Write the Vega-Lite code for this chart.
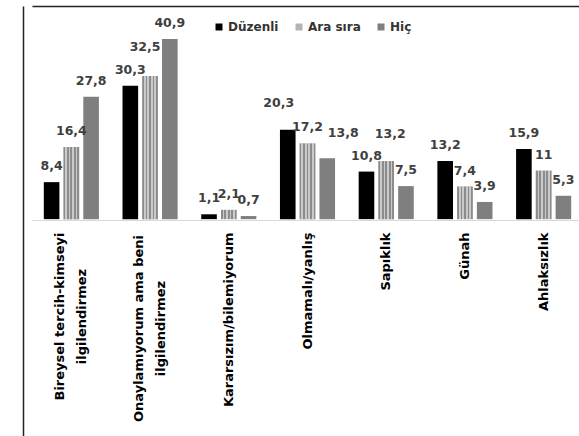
{
  "$schema": "https://vega.github.io/schema/vega-lite/v6.json",
  "width": 600,
  "height": 432,
  "autosize": {"type": "none"},
  "padding": {"left": 23, "top": 6, "right": -44, "bottom": -2},
  "background": "white",
  "config": {
    "view": {"stroke": null},
    "font": "DejaVu Sans",
    "text": {"font": "DejaVu Sans", "fontWeight": "bold", "fontSize": 12.5, "color": "#404040", "baseline": "alphabetic", "align": "center"}
  },
  "data": {
    "values": [
      {"kategori": "Bireysel tercih-kimseyi ilgilendirmez", "seri": "Düzenli", "deger": 8.4},
      {"kategori": "Bireysel tercih-kimseyi ilgilendirmez", "seri": "Ara sıra", "deger": 16.4},
      {"kategori": "Bireysel tercih-kimseyi ilgilendirmez", "seri": "Hiç", "deger": 27.8},
      {"kategori": "Onaylamıyorum ama beni ilgilendirmez", "seri": "Düzenli", "deger": 30.3},
      {"kategori": "Onaylamıyorum ama beni ilgilendirmez", "seri": "Ara sıra", "deger": 32.5},
      {"kategori": "Onaylamıyorum ama beni ilgilendirmez", "seri": "Hiç", "deger": 40.9},
      {"kategori": "Kararsızım/bilemiyorum", "seri": "Düzenli", "deger": 1.1},
      {"kategori": "Kararsızım/bilemiyorum", "seri": "Ara sıra", "deger": 2.1},
      {"kategori": "Kararsızım/bilemiyorum", "seri": "Hiç", "deger": 0.7},
      {"kategori": "Olmamalı/yanlış", "seri": "Düzenli", "deger": 20.3},
      {"kategori": "Olmamalı/yanlış", "seri": "Ara sıra", "deger": 17.2},
      {"kategori": "Olmamalı/yanlış", "seri": "Hiç", "deger": 13.8},
      {"kategori": "Sapıklık", "seri": "Düzenli", "deger": 10.8},
      {"kategori": "Sapıklık", "seri": "Ara sıra", "deger": 13.2},
      {"kategori": "Sapıklık", "seri": "Hiç", "deger": 7.5},
      {"kategori": "Günah", "seri": "Düzenli", "deger": 13.2},
      {"kategori": "Günah", "seri": "Ara sıra", "deger": 7.4},
      {"kategori": "Günah", "seri": "Hiç", "deger": 3.9},
      {"kategori": "Ahlaksızlık", "seri": "Düzenli", "deger": 15.9},
      {"kategori": "Ahlaksızlık", "seri": "Ara sıra", "deger": 11},
      {"kategori": "Ahlaksızlık", "seri": "Hiç", "deger": 5.3}
    ]
  },
  "transform": [
    {"calculate": "replace(format(datum.deger, '~g'), '.', ',')", "as": "etiket"}
  ],
  "encoding": {
    "x": {
      "field": "kategori",
      "type": "nominal",
      "sort": null,
      "scale": {"range": [9, 560], "paddingInner": 0.3, "paddingOuter": 0.15},
      "axis": {
        "title": null,
        "orient": "bottom",
        "offset": -218,
        "domainColor": "#d9d9d9",
        "domainWidth": 1,
        "ticks": false,
        "labelAngle": -90,
        "labelFont": "DejaVu Sans",
        "labelFontWeight": "bold",
        "labelFontSize": 13,
        "labelColor": "#000000",
        "labelLimit": 0,
        "labelLineHeight": 22,
        "labelExpr": "datum.value == 'Bireysel tercih-kimseyi ilgilendirmez' ? ['Bireysel tercih-kimseyi', 'ilgilendirmez'] : datum.value == 'Onaylamıyorum ama beni ilgilendirmez' ? ['Onaylamıyorum ama beni', 'ilgilendirmez'] : datum.value",
        "labelAlign": {"condition": {"test": "indexof(datum.value, 'ilgilendirmez') >= 0", "value": "center"}, "value": "right"},
        "labelPadding": {"condition": [
          {"test": "datum.value == 'Bireysel tercih-kimseyi ilgilendirmez'", "value": 96},
          {"test": "datum.value == 'Onaylamıyorum ama beni ilgilendirmez'", "value": 108}
        ], "value": 12},
        "labelOffset": {"condition": {"test": "indexof(datum.value, 'ilgilendirmez') >= 0", "value": -11}, "value": 0}
      }
    },
    "xOffset": {
      "field": "seri",
      "type": "nominal",
      "scale": {"domain": ["Düzenli", "Ara sıra", "Hiç"], "paddingInner": 0.21, "paddingOuter": 0}
    },
    "y": {
      "field": "deger",
      "type": "quantitative",
      "scale": {"domain": [-49.7, 48.4], "nice": false, "zero": false},
      "axis": {
        "orient": "left",
        "title": null,
        "values": [48.4],
        "grid": true,
        "gridColor": "#222222",
        "gridWidth": 1.5,
        "gridOpacity": 1,
        "domain": true,
        "domainColor": "#222222",
        "domainWidth": 1.5,
        "labels": false,
        "ticks": false
      }
    }
  },
  "layer": [
    {
      "mark": {"type": "bar"},
      "encoding": {
        "y2": {"datum": 0},
        "color": {
          "field": "seri",
          "type": "nominal",
          "scale": {"domain": ["Düzenli", "Ara sıra", "Hiç"], "range": ["#000000", "#b4b4b4", "#7f7f7f"]},
          "legend": {
            "title": null,
            "orient": "none",
            "legendX": 190,
            "legendY": 15,
            "direction": "horizontal",
            "symbolType": "square",
            "symbolSize": 49,
            "symbolStrokeWidth": 0,
            "labelFont": "DejaVu Sans",
            "labelFontSize": 12,
            "labelFontWeight": "bold",
            "labelColor": "#333333",
            "columnPadding": 14,
            "labelOffset": 3
          }
        }
      }
    },
    {
      "transform": [{"filter": "datum.seri == 'Ara sıra'"}],
      "mark": {
        "type": "bar",
        "fill": {
          "gradient": "linear",
          "x1": 0, "y1": 0, "x2": 1, "y2": 0,
          "stops": [
            {"offset": 0, "color": "#8c8c8c"},
            {"offset": 0.111, "color": "#8c8c8c"},
            {"offset": 0.111, "color": "#cacaca"},
            {"offset": 0.222, "color": "#cacaca"},
            {"offset": 0.222, "color": "#8c8c8c"},
            {"offset": 0.333, "color": "#8c8c8c"},
            {"offset": 0.333, "color": "#cacaca"},
            {"offset": 0.444, "color": "#cacaca"},
            {"offset": 0.444, "color": "#8c8c8c"},
            {"offset": 0.556, "color": "#8c8c8c"},
            {"offset": 0.556, "color": "#cacaca"},
            {"offset": 0.667, "color": "#cacaca"},
            {"offset": 0.667, "color": "#8c8c8c"},
            {"offset": 0.778, "color": "#8c8c8c"},
            {"offset": 0.778, "color": "#cacaca"},
            {"offset": 0.889, "color": "#cacaca"},
            {"offset": 0.889, "color": "#8c8c8c"},
            {"offset": 1, "color": "#8c8c8c"}
          ]
        }
      },
      "encoding": {"y2": {"datum": 0}}
    },
    {
      "transform": [{"filter": "!(datum.deger == 32.5 || (datum.kategori == 'Olmamalı/yanlış' && datum.seri != 'Ara sıra') || (datum.kategori == 'Sapıklık' && datum.seri == 'Ara sıra'))"}],
      "mark": {"type": "text", "dy": -12},
      "encoding": {"text": {"field": "etiket", "type": "nominal"}}
    },
    {
      "transform": [{"filter": "datum.deger == 32.5"}],
      "mark": {"type": "text", "dx": -5, "dy": -25},
      "encoding": {"text": {"field": "etiket", "type": "nominal"}}
    },
    {
      "transform": [{"filter": "datum.kategori == 'Olmamalı/yanlış' && datum.seri == 'Düzenli'"}],
      "mark": {"type": "text", "dx": -9, "dy": -23},
      "encoding": {"text": {"field": "etiket", "type": "nominal"}}
    },
    {
      "transform": [{"filter": "datum.kategori == 'Olmamalı/yanlış' && datum.seri == 'Hiç'"}],
      "mark": {"type": "text", "dx": 16, "dy": -21},
      "encoding": {"text": {"field": "etiket", "type": "nominal"}}
    },
    {
      "transform": [{"filter": "datum.kategori == 'Sapıklık' && datum.seri == 'Ara sıra'"}],
      "mark": {"type": "text", "dx": 4, "dy": -23},
      "encoding": {"text": {"field": "etiket", "type": "nominal"}}
    }
  ]
}
